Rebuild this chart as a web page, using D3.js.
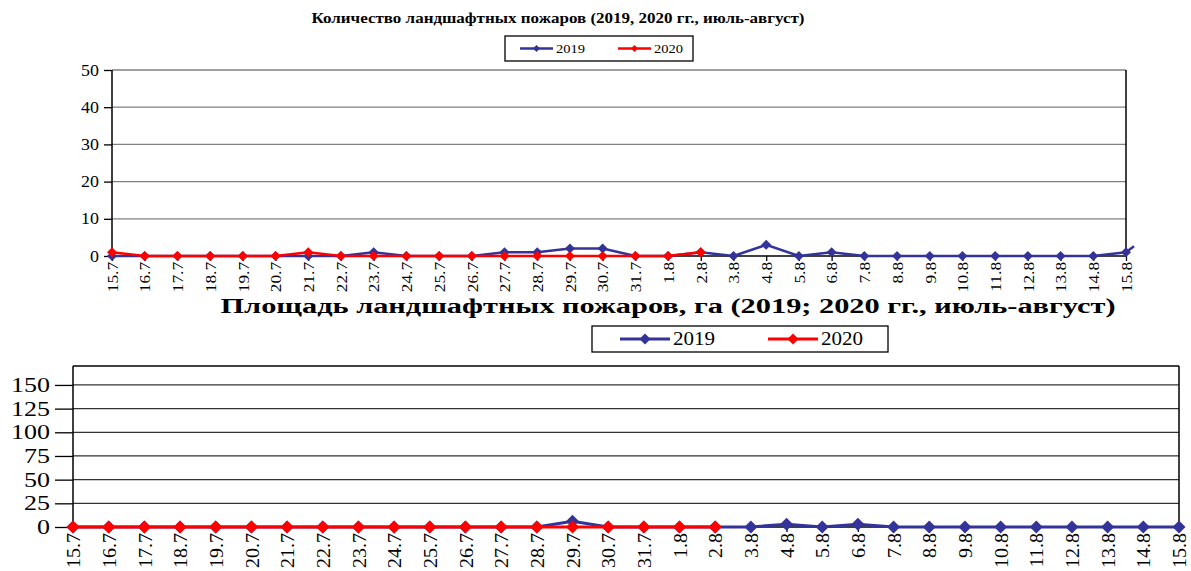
<!DOCTYPE html>
<html>
<head>
<meta charset="utf-8">
<script src="https://cdn.jsdelivr.net/npm/d3@7"></script>
<style>
  body { margin: 0; background: #fff; }
  svg text { font-family: "Liberation Serif", "Times New Roman", Times, serif !important; }
</style>
</head>
<body>
<div id="chart"></div>
<script>
// dates, July-August
const dates = ["15.7","16.7","17.7","18.7","19.7","20.7","21.7","22.7","23.7","24.7","25.7","26.7",
  "27.7","28.7","29.7","30.7","31.7","1.8","2.8","3.8","4.8","5.8","6.8","7.8","8.8","9.8","10.8",
  "11.8","12.8","13.8","14.8","15.8"];

// number of fires
const count2019 = [0,0,0,0,0,0,0,0,1,0,0,0,1,1,2,2,0,0,1,0,3,0,1,0,0,0,0,0,0,0,0,1];
const count2020 = [1,0,0,0,0,0,1,0,0,0,0,0,0,0,0,0,0,0,1];
const countTicks = [0,10,20,30,40,50];

// burnt area, ha
const area2019 = [0,0,0,0,0,0,0,0,0,0,0,0,0,0,6,0,0,0,0,0,3,0,3,0,0,0,0,0,0,0,0,0];
const area2020 = [0,0,0,0,0,0,0,0,0,0,0,0,0,0,0,0,0,0,0];
const areaTicks = [0,25,50,75,100,125,150];

const blue = "#333399", red = "#ff0000";
const serif = "'Liberation Serif', 'Times New Roman', serif";

const svg = d3.select("#chart").append("svg")
  .attr("width", 1191).attr("height", 571);

// diamond marker
function diamond(g, pts, x, y, r, color) {
  g.selectAll(null).data(pts).enter().append("path")
    .attr("d", d => `M${x(d[0])},${y(d[1]) - r}L${x(d[0]) + r},${y(d[1])}L${x(d[0])},${y(d[1]) + r}L${x(d[0]) - r},${y(d[1])}Z`)
    .attr("fill", color);
}

function drawChart(o) {
  const x = d3.scalePoint().domain(dates).range([o.left, o.right]);
  const y = d3.scaleLinear().domain([0, o.yMax]).range([o.bottom, o.top]);
  const g = svg.append("g");

  // gridlines
  g.selectAll(".grid").data(o.ticks.filter(t => t > 0)).enter().append("line")
    .attr("x1", o.left).attr("x2", o.right)
    .attr("y1", d => y(d)).attr("y2", d => y(d))
    .attr("stroke", o.gridColor).attr("stroke-width", 1.3);

  // frame
  if (o.topBorder) {
    g.append("line").attr("x1", o.left).attr("x2", o.right)
      .attr("y1", o.top).attr("y2", o.top).attr("stroke", "#000").attr("stroke-width", 1.5);
  }
  g.append("line").attr("x1", o.right).attr("x2", o.right)
    .attr("y1", o.top).attr("y2", o.bottom).attr("stroke", "#000").attr("stroke-width", 1.5);

  // y axis (labels are a bit stretched sideways in the original)
  const ya = g.append("g").attr("transform", `translate(${o.left},0)`)
    .call(d3.axisLeft(y).tickValues(o.ticks).tickSize(o.tickLen).tickPadding(5).tickFormat(d3.format("d")));
  ya.attr("font-family", null);
  ya.select(".domain").attr("d", `M0,${o.top}V${o.bottom}`).attr("stroke", "#000").attr("stroke-width", 1.5);
  ya.selectAll(".tick line").attr("stroke", "#000").attr("stroke-width", 1.3);
  ya.selectAll("text").style("font-size", o.yFont + "px").attr("fill", "#000")
    .style("font-family", serif)
    .attr("x", -(o.tickLen + 5) / o.ySx)
    .attr("transform", `scale(${o.ySx},1)`);

  // x axis
  const xa = g.append("g").attr("transform", `translate(0,${o.bottom})`)
    .call(d3.axisBottom(x).tickSize(5).tickPadding(4));
  xa.attr("font-family", null);
  xa.select(".domain").attr("d", `M${o.left},0H${o.right}`).attr("stroke", "#000").attr("stroke-width", 1.5);
  xa.selectAll(".tick line").attr("stroke", "#000").attr("stroke-width", 1.3);
  xa.selectAll("text")
    .style("font-size", o.xFont + "px").attr("fill", "#000").style("font-family", serif)
    .attr("transform", `rotate(-90) scale(${o.xSx},1)`)
    .attr("text-anchor", "end").attr("dy", "0.35em").attr("y", 0).attr("x", -6 / o.xSx);

  // series
  const line = d3.line().x(d => x(d[0])).y(d => y(d[1]));
  [[o.s2019, blue], [o.s2020, red]].forEach(([vals, color]) => {
    const pts = vals.map((v, i) => [dates[i], v]);
    g.append("path").datum(pts).attr("d", line)
      .attr("fill", "none").attr("stroke", color).attr("stroke-width", o.lineW);
    diamond(g, pts, x, y, o.markR, color);
  });

  // blue line continues beyond the last date (clipped in the original)
  if (o.tail) {
    const lx = x(dates[dates.length - 1]);
    const ly = y(o.s2019[o.s2019.length - 1]);
    g.append("line").attr("x1", lx).attr("y1", ly)
      .attr("x2", lx + o.tail[0]).attr("y2", ly - o.tail[1])
      .attr("stroke", blue).attr("stroke-width", o.lineW);
  }

  // title
  svg.append("text").attr("x", o.titleX).attr("y", o.titleY)
    .attr("text-anchor", "middle").attr("font-weight", "bold").style("font-size", o.titleFont + "px")
    .attr("textLength", o.titleLen).attr("lengthAdjust", "spacingAndGlyphs")
    .text(o.title);

  // legend
  const L = o.legend;
  svg.append("rect").attr("x", L.x).attr("y", L.y).attr("width", L.w).attr("height", L.h)
    .attr("fill", "#fff").attr("stroke", "#000").attr("stroke-width", 1.3);
  [["2019", blue], ["2020", red]].forEach(([name, color], i) => {
    const lx = L.x + L.pad + i * L.gap, ly = L.y + L.h / 2;
    svg.append("line").attr("x1", lx).attr("x2", lx + L.len).attr("y1", ly).attr("y2", ly)
      .attr("stroke", color).attr("stroke-width", o.lineW);
    const mx = lx + L.len / 2, r = L.r;
    svg.append("path").attr("d", `M${mx},${ly - r}L${mx + r},${ly}L${mx},${ly + r}L${mx - r},${ly}Z`)
      .attr("fill", color);
    svg.append("text").attr("x", lx + L.len + 3).attr("y", ly).attr("dy", "0.35em")
      .style("font-size", L.font + "px")
      .attr("textLength", L.textLen).attr("lengthAdjust", "spacingAndGlyphs")
      .text(name);
  });
}

drawChart({
  left: 112, right: 1126, top: 70, bottom: 256, yMax: 50,
  ticks: countTicks, tickLen: 8, gridColor: "#808080", topBorder: false,
  s2019: count2019, s2020: count2020, yFont: 16, ySx: 1.12, xFont: 15, xSx: 1.15,
  lineW: 2.5, markR: 5, tail: [8, 6],
  title: "Количество ландшафтных пожаров (2019, 2020  гг., июль-август)",
  titleX: 558, titleY: 23, titleFont: 14, titleLen: 493,
  legend: { x: 505, y: 36, w: 188, h: 25, pad: 15, gap: 98, len: 33, r: 3.5, font: 13, textLen: 29 }
});

drawChart({
  left: 73, right: 1179, top: 366, bottom: 527, yMax: 170,
  ticks: areaTicks, tickLen: 18, gridColor: "#333", topBorder: true,
  s2019: area2019, s2020: area2020, yFont: 20, ySx: 1.3, xFont: 19, xSx: 1.05,
  lineW: 3, markR: 6.5, tail: null,
  title: "Площадь ландшафтных пожаров, га (2019;  2020 гг., июль-август)",
  titleX: 668, titleY: 313, titleFont: 20, titleLen: 895,
  legend: { x: 592, y: 326, w: 296, h: 26, pad: 28, gap: 148, len: 50, r: 5.5, font: 18, textLen: 42 }
});
</script>
</body>
</html>
